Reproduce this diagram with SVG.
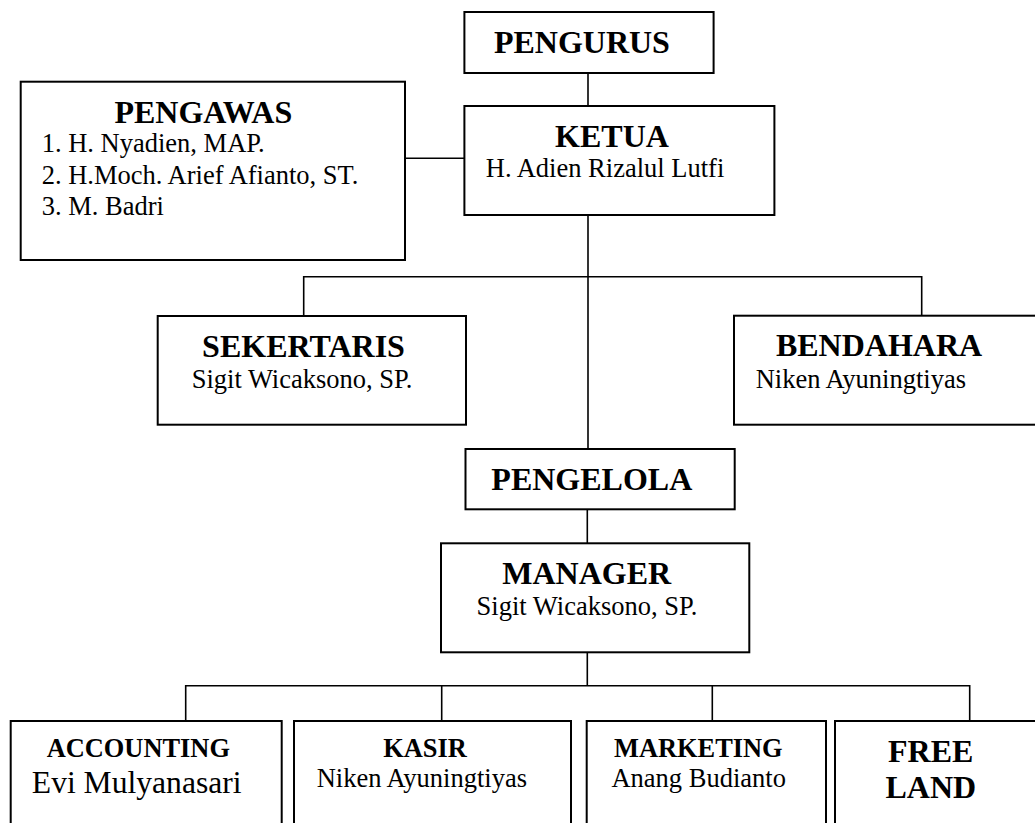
<svg xmlns="http://www.w3.org/2000/svg" width="1035" height="823" viewBox="0 0 1035 823">
<style>
.box{fill:#fff;stroke:#000;stroke-width:2}
.ln{fill:none;stroke:#000;stroke-width:1.6}
.t{font-family:"Liberation Serif","Times New Roman",serif;font-weight:bold;font-size:32px;fill:#000}
.ts{font-family:"Liberation Serif","Times New Roman",serif;font-weight:bold;font-size:26.4px;fill:#000}
.n{font-family:"Liberation Serif","Times New Roman",serif;font-size:26.5px;fill:#000}
.nl{font-family:"Liberation Serif","Times New Roman",serif;font-size:31.6px;fill:#000}
</style>
<rect width="1035" height="823" fill="#fff"/>
<g id="connectors">
<path class="ln" d="M588 73V449"/>
<path class="ln" d="M405 158.3H464.4"/>
<path class="ln" d="M303.7 316V276.7H921.7V316"/>
<path class="ln" d="M587.3 509.3V543.3"/>
<path class="ln" d="M587.3 652.3V685.7"/>
<path class="ln" d="M185.7 721V685.7H969.7V721"/>
<path class="ln" d="M441.7 685.7V721"/>
<path class="ln" d="M712.3 685.7V721"/>
</g>
<g id="pengurus">
<rect class="box" x="464.4" y="12" width="249.2" height="61"/>
<text class="t" x="493.9" y="52.7">PENGURUS</text>
</g>
<g id="pengawas">
<rect class="box" x="20.7" y="81.7" width="384.3" height="178.3"/>
<text class="t" x="203.3" y="122.7" text-anchor="middle">PENGAWAS</text>
<text class="n" x="41.7" y="151.7">1. H. Nyadien, MAP.</text>
<text class="n" x="41.7" y="183.5">2. H.Moch. Arief Afianto, ST.</text>
<text class="n" x="41.7" y="215">3. M. Badri</text>
</g>
<g id="ketua">
<rect class="box" x="464.4" y="106" width="310" height="109"/>
<text class="t" x="612" y="146.7" text-anchor="middle">KETUA</text>
<text class="n" x="485.8" y="176.7">H. Adien Rizalul Lutfi</text>
</g>
<g id="sekertaris">
<rect class="box" x="157.7" y="316" width="308.3" height="108.7"/>
<text class="t" x="303.5" y="356.7" text-anchor="middle">SEKERTARIS</text>
<text class="n" x="191.7" y="387.7">Sigit Wicaksono, SP.</text>
</g>
<g id="bendahara">
<rect class="box" x="734" y="315.7" width="320" height="109"/>
<text class="t" x="879" y="356" text-anchor="middle">BENDAHARA</text>
<text class="n" x="755.7" y="387.7">Niken Ayuningtiyas</text>
</g>
<g id="pengelola">
<rect class="box" x="465.5" y="449" width="269.2" height="60.3"/>
<text class="t" x="591.8" y="490" text-anchor="middle">PENGELOLA</text>
</g>
<g id="manager">
<rect class="box" x="441" y="543.3" width="308.3" height="109"/>
<text class="t" x="586.7" y="584" text-anchor="middle">MANAGER</text>
<text class="n" x="587" y="615" text-anchor="middle">Sigit Wicaksono, SP.</text>
</g>
<g id="accounting">
<rect class="box" x="10.7" y="721" width="271" height="120"/>
<text class="ts" x="138.3" y="757.3" text-anchor="middle">ACCOUNTING</text>
<text class="nl" x="136.7" y="792.7" text-anchor="middle">Evi Mulyanasari</text>
</g>
<g id="kasir">
<rect class="box" x="294" y="721" width="277" height="120"/>
<text class="ts" x="425" y="757.3" text-anchor="middle">KASIR</text>
<text class="n" x="316.7" y="786.7">Niken Ayuningtiyas</text>
</g>
<g id="marketing">
<rect class="box" x="586.7" y="721" width="239.3" height="120"/>
<text class="ts" x="698.3" y="757.3" text-anchor="middle">MARKETING</text>
<text class="n" x="698.7" y="786.7" text-anchor="middle">Anang Budianto</text>
</g>
<g id="freeland">
<rect class="box" x="835" y="721" width="220" height="120"/>
<text class="t" x="930.7" y="762.3" text-anchor="middle">FREE</text>
<text class="t" x="930.8" y="798.3" text-anchor="middle">LAND</text>
</g>
</svg>
